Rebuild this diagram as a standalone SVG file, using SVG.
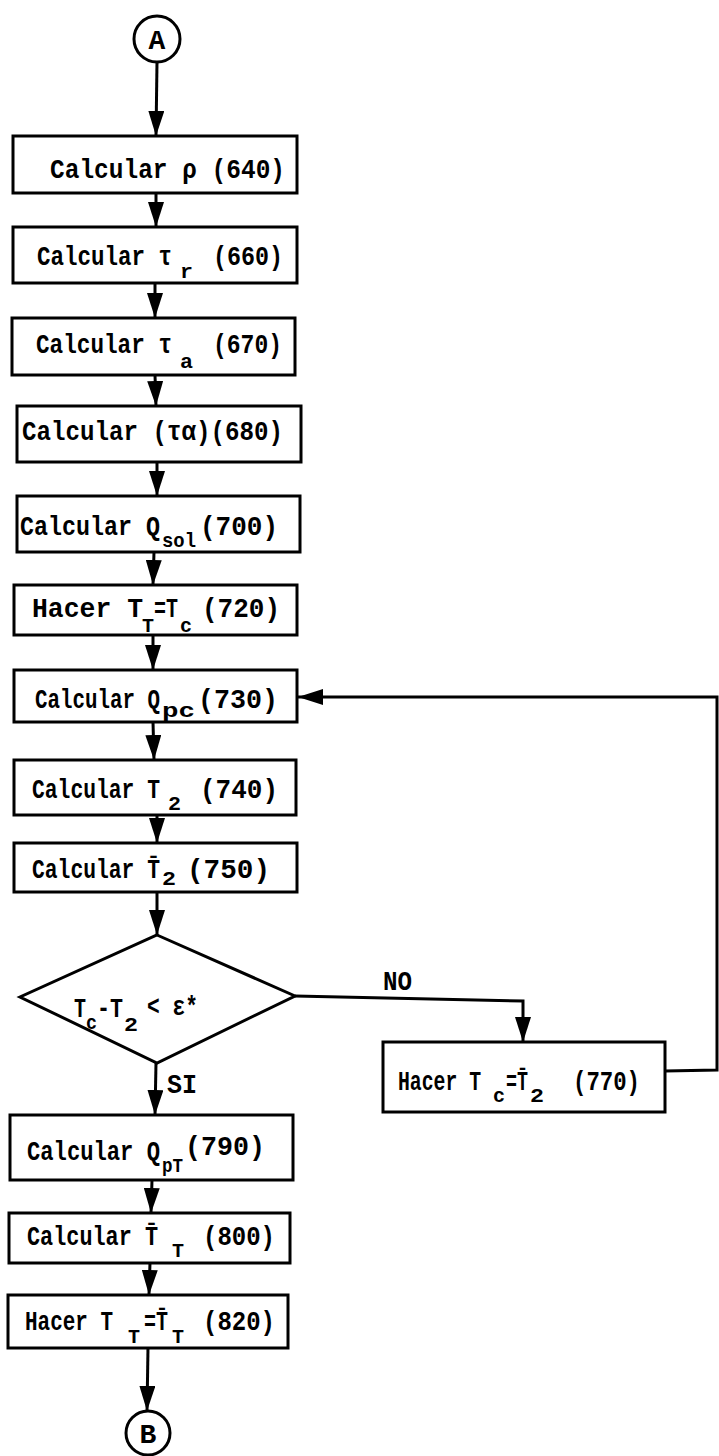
<svg xmlns="http://www.w3.org/2000/svg" width="719" height="1456" viewBox="0 0 719 1456">
<style>
.bx{fill:none;stroke:#000;stroke-width:3}
.ln{fill:none;stroke:#000;stroke-width:3}
.t{font-family:"Liberation Mono","DejaVu Sans Mono",monospace;font-size:28px;font-weight:bold;fill:#000}
.s{font-size:21px}
</style>
<defs>
<marker id="ah" viewBox="0 0 25 16" refX="25" refY="8" markerWidth="25" markerHeight="16" markerUnits="userSpaceOnUse" orient="auto">
<path d="M0,0 L25,8 L0,16 Z" fill="#000"/>
</marker>
</defs>
<rect width="719" height="1456" fill="#fff"/>

<g id="connectors">
<line class="ln" x1="157" y1="62" x2="156" y2="136" marker-end="url(#ah)"/>
<line class="ln" x1="156" y1="193" x2="156" y2="227" marker-end="url(#ah)"/>
<line class="ln" x1="155" y1="283" x2="155" y2="318" marker-end="url(#ah)"/>
<line class="ln" x1="155" y1="375" x2="156" y2="406" marker-end="url(#ah)"/>
<line class="ln" x1="157" y1="462" x2="157" y2="496" marker-end="url(#ah)"/>
<line class="ln" x1="154" y1="552" x2="153" y2="585" marker-end="url(#ah)"/>
<line class="ln" x1="153" y1="635" x2="153" y2="670" marker-end="url(#ah)"/>
<line class="ln" x1="153" y1="722" x2="154" y2="760" marker-end="url(#ah)"/>
<line class="ln" x1="157" y1="815" x2="157" y2="843" marker-end="url(#ah)"/>
<line class="ln" x1="157" y1="892" x2="157" y2="935" marker-end="url(#ah)"/>
<line class="ln" x1="156" y1="1063" x2="155" y2="1115" marker-end="url(#ah)"/>
<line class="ln" x1="152" y1="1180" x2="151" y2="1213" marker-end="url(#ah)"/>
<line class="ln" x1="150" y1="1263" x2="149" y2="1295" marker-end="url(#ah)"/>
<line class="ln" x1="148" y1="1348" x2="147" y2="1411" marker-end="url(#ah)"/>
<polyline class="ln" points="295,996 523,1001 523,1042" marker-end="url(#ah)"/>
<polyline class="ln" points="665,1071 717,1070 717,697 298,697" marker-end="url(#ah)"/>
<text class="t" x="383" y="990" textLength="29" lengthAdjust="spacingAndGlyphs">NO</text>
<text class="t" x="167" y="1093" textLength="30" lengthAdjust="spacingAndGlyphs">SI</text>
</g>

<g id="nodeA">
<circle cx="157" cy="39" r="23" fill="none" stroke="#000" stroke-width="3"/>
<text class="t" x="157" y="49" text-anchor="middle">A</text>
</g>

<g id="n640">
<rect class="bx" x="13" y="136" width="284" height="57"/>
<text class="t" x="50" y="178" textLength="235" lengthAdjust="spacingAndGlyphs">Calcular ρ (640)</text>
</g>

<g id="n660">
<rect class="bx" x="13" y="227" width="284" height="56"/>
<text class="t" lengthAdjust="spacingAndGlyphs"><tspan x="37" y="265" textLength="135" lengthAdjust="spacingAndGlyphs">Calcular τ</tspan><tspan class="s" x="180" y="278" textLength="13" lengthAdjust="spacingAndGlyphs">r</tspan><tspan x="213" y="265" textLength="70" lengthAdjust="spacingAndGlyphs">(660)</tspan></text>
</g>

<g id="n670">
<rect class="bx" x="12" y="318" width="283" height="57"/>
<text class="t"><tspan x="36" y="353" textLength="136" lengthAdjust="spacingAndGlyphs">Calcular τ</tspan><tspan class="s" x="180" y="368" textLength="13" lengthAdjust="spacingAndGlyphs">a</tspan><tspan x="213" y="353" textLength="69" lengthAdjust="spacingAndGlyphs">(670)</tspan></text>
</g>

<g id="n680">
<rect class="bx" x="17" y="406" width="284" height="56"/>
<text class="t" x="22" y="440" textLength="261" lengthAdjust="spacingAndGlyphs">Calcular (τα)(680)</text>
</g>

<g id="n700">
<rect class="bx" x="17" y="496" width="283" height="56"/>
<text class="t"><tspan x="20" y="535" textLength="140" lengthAdjust="spacingAndGlyphs">Calcular Q</tspan><tspan class="s" x="162" y="547" textLength="34" lengthAdjust="spacingAndGlyphs">sol</tspan><tspan x="200" y="535" textLength="78" lengthAdjust="spacingAndGlyphs">(700)</tspan></text>
</g>

<g id="n720">
<rect class="bx" x="14" y="585" width="283" height="50"/>
<text class="t"><tspan x="32" y="617" textLength="111" lengthAdjust="spacingAndGlyphs">Hacer T</tspan><tspan class="s" x="142" y="632" textLength="12" lengthAdjust="spacingAndGlyphs">T</tspan><tspan x="154" y="617" textLength="24" lengthAdjust="spacingAndGlyphs">=T</tspan><tspan class="s" x="180" y="632" textLength="12" lengthAdjust="spacingAndGlyphs">c</tspan><tspan x="202" y="617" textLength="78" lengthAdjust="spacingAndGlyphs">(720)</tspan></text>
</g>

<g id="n730">
<rect class="bx" x="14" y="670" width="283" height="52"/>
<text class="t"><tspan x="35" y="708" textLength="125" lengthAdjust="spacingAndGlyphs">Calcular Q</tspan><tspan class="s" x="162" y="717" textLength="33" lengthAdjust="spacingAndGlyphs">pc</tspan><tspan x="198" y="708" textLength="80" lengthAdjust="spacingAndGlyphs">(730)</tspan></text>
</g>

<g id="n740">
<rect class="bx" x="14" y="760" width="282" height="55"/>
<text class="t"><tspan x="32" y="798" textLength="128" lengthAdjust="spacingAndGlyphs">Calcular T</tspan><tspan class="s" x="168" y="810" textLength="13" lengthAdjust="spacingAndGlyphs">2</tspan><tspan x="200" y="798" textLength="78" lengthAdjust="spacingAndGlyphs">(740)</tspan></text>
</g>

<g id="n750">
<rect class="bx" x="14" y="843" width="283" height="49"/>
<text class="t"><tspan x="32" y="878" textLength="128" lengthAdjust="spacingAndGlyphs">Calcular T̄</tspan><tspan class="s" x="162" y="885" textLength="14" lengthAdjust="spacingAndGlyphs">2</tspan><tspan x="187" y="878" textLength="83" lengthAdjust="spacingAndGlyphs">(750)</tspan></text>
</g>

<g id="decision">
<polygon points="157,935 295,996 157,1063 20,997" fill="none" stroke="#000" stroke-width="3"/>
<text class="t"><tspan x="74" y="1017" textLength="12" lengthAdjust="spacingAndGlyphs">T</tspan><tspan class="s" x="86" y="1029" textLength="11" lengthAdjust="spacingAndGlyphs">c</tspan><tspan x="97" y="1017" textLength="26" lengthAdjust="spacingAndGlyphs">-T</tspan><tspan class="s" x="124" y="1031" textLength="14" lengthAdjust="spacingAndGlyphs">2</tspan><tspan x="147" y="1015" textLength="51" lengthAdjust="spacingAndGlyphs">&lt; ε*</tspan></text>
</g>

<g id="n770">
<rect class="bx" x="383" y="1042" width="282" height="70"/>
<text class="t"><tspan x="398" y="1090" textLength="83" lengthAdjust="spacingAndGlyphs">Hacer T</tspan><tspan class="s" x="493" y="1102" textLength="12" lengthAdjust="spacingAndGlyphs">c</tspan><tspan x="506" y="1090" textLength="22" lengthAdjust="spacingAndGlyphs">=T̄</tspan><tspan class="s" x="530" y="1102" textLength="14" lengthAdjust="spacingAndGlyphs">2</tspan><tspan x="573" y="1090" textLength="67" lengthAdjust="spacingAndGlyphs">(770)</tspan></text>
</g>

<g id="n790">
<rect class="bx" x="10" y="1115" width="283" height="65"/>
<text class="t"><tspan x="27" y="1160" textLength="133" lengthAdjust="spacingAndGlyphs">Calcular Q</tspan><tspan class="s" x="162" y="1172" textLength="21" lengthAdjust="spacingAndGlyphs">pT</tspan><tspan x="185" y="1155" textLength="80" lengthAdjust="spacingAndGlyphs">(790)</tspan></text>
</g>

<g id="n800">
<rect class="bx" x="9" y="1213" width="281" height="50"/>
<text class="t"><tspan x="27" y="1245" textLength="131" lengthAdjust="spacingAndGlyphs">Calcular T̄</tspan><tspan class="s" x="172" y="1257" textLength="12" lengthAdjust="spacingAndGlyphs">T</tspan><tspan x="203" y="1245" textLength="72" lengthAdjust="spacingAndGlyphs">(800)</tspan></text>
</g>

<g id="n820">
<rect class="bx" x="8" y="1295" width="280" height="53"/>
<text class="t"><tspan x="25" y="1330" textLength="88" lengthAdjust="spacingAndGlyphs">Hacer T</tspan><tspan class="s" x="128" y="1343" textLength="12" lengthAdjust="spacingAndGlyphs">T</tspan><tspan x="144" y="1330" textLength="24" lengthAdjust="spacingAndGlyphs">=T̄</tspan><tspan class="s" x="172" y="1343" textLength="12" lengthAdjust="spacingAndGlyphs">T</tspan><tspan x="203" y="1330" textLength="72" lengthAdjust="spacingAndGlyphs">(820)</tspan></text>
</g>

<g id="nodeB">
<circle cx="148" cy="1433" r="22" fill="none" stroke="#000" stroke-width="3"/>
<text class="t" x="148" y="1443" text-anchor="middle">B</text>
</g>
</svg>
